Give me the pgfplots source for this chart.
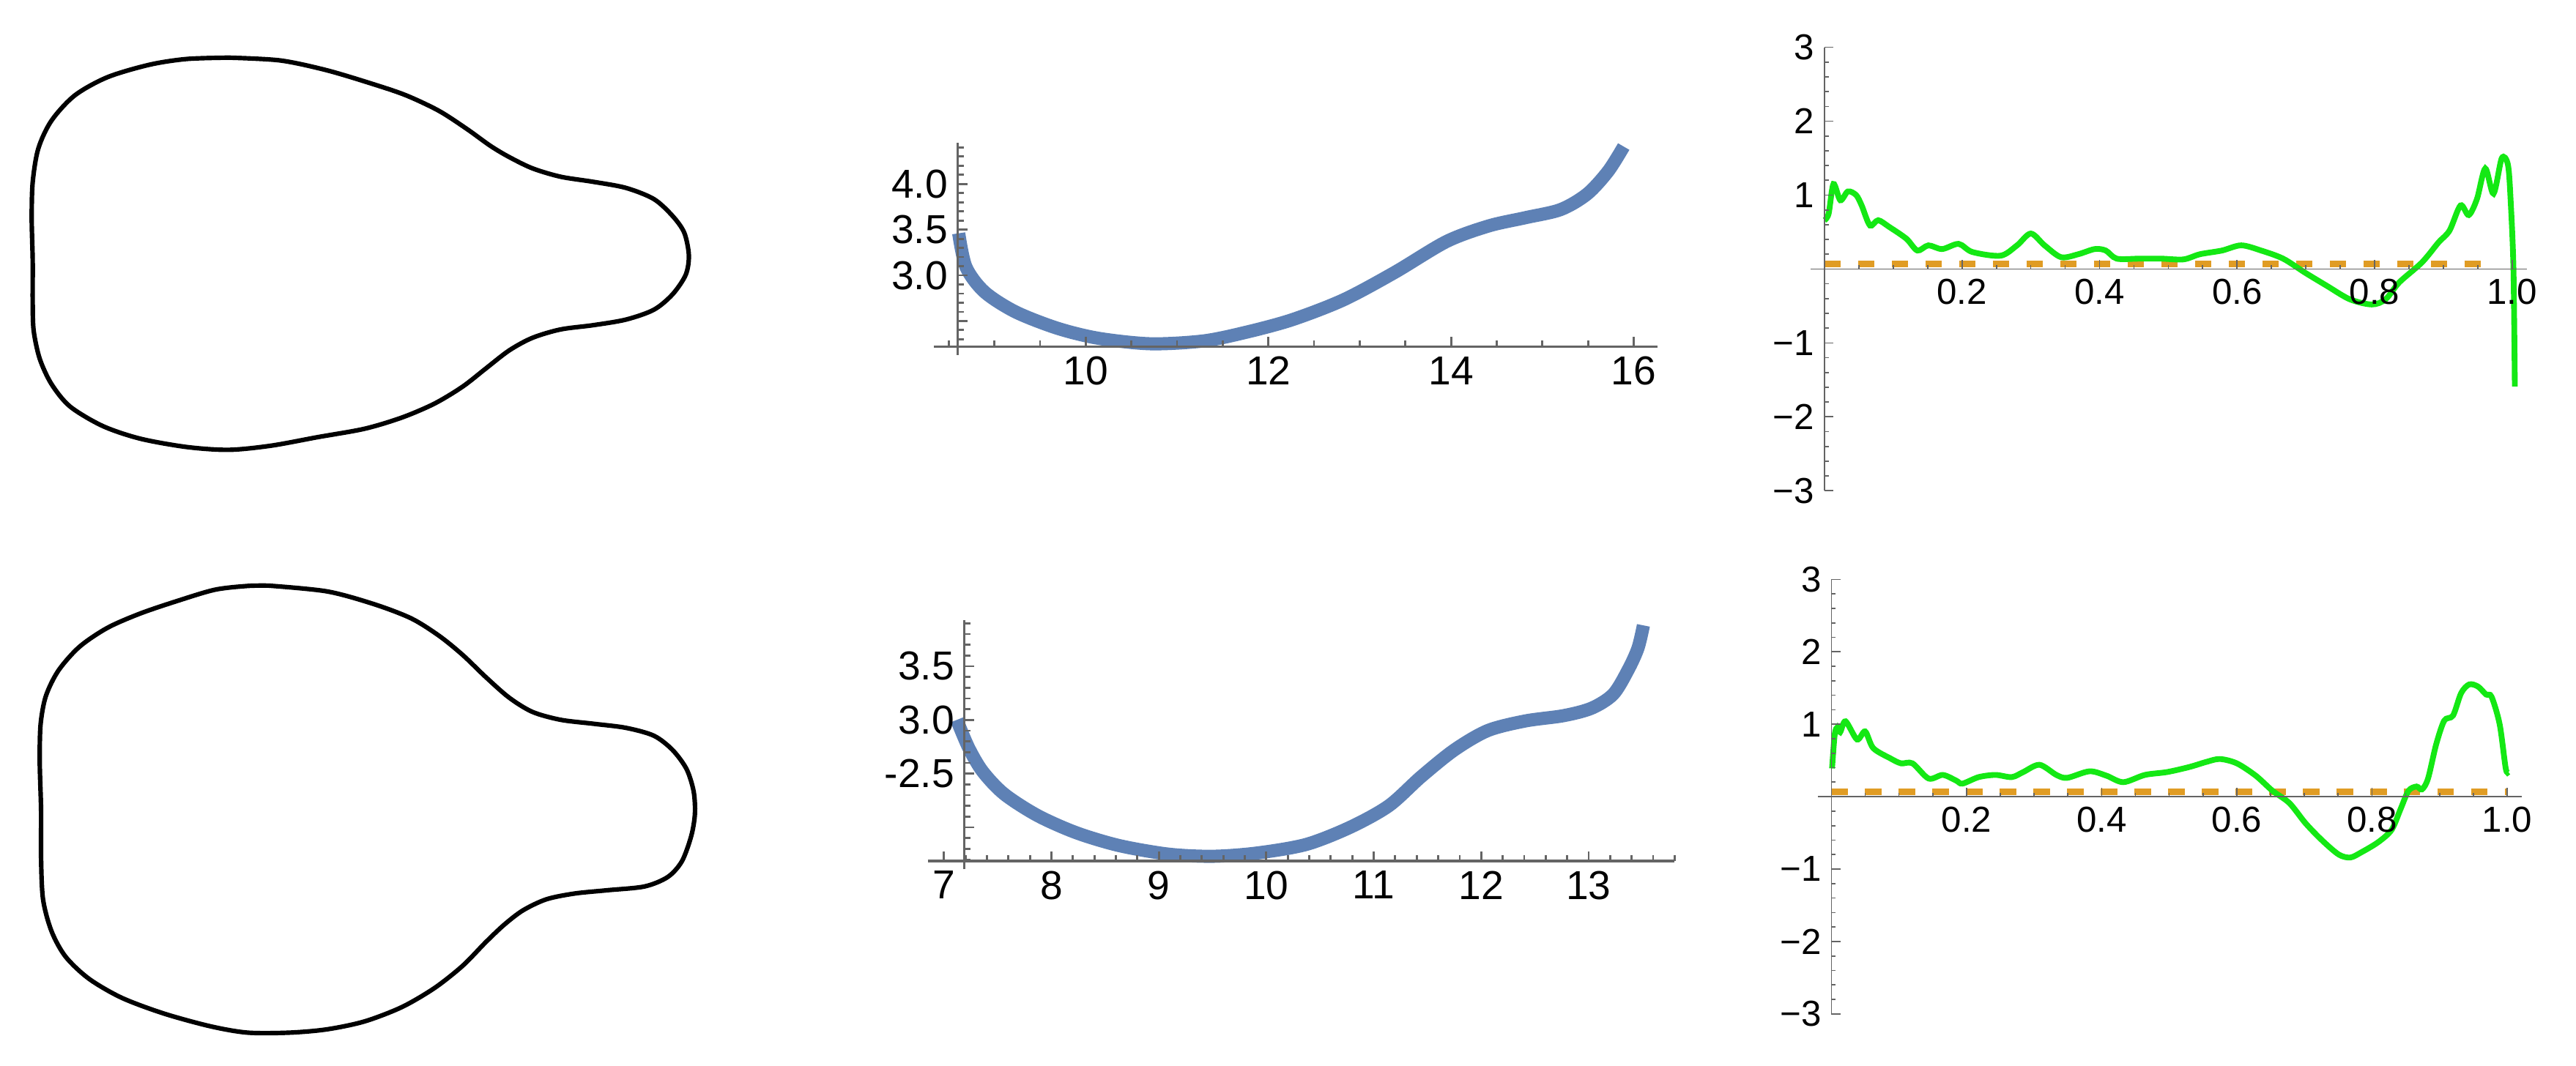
\documentclass[border=0pt]{standalone}
\usepackage{pgfplots}
\pgfplotsset{compat=1.18}
\usepackage{fontspec}
\setmainfont{Liberation Sans}

\definecolor{mblue}{RGB}{94,129,181}
\definecolor{morange}{RGB}{224,156,36}
\definecolor{mgreen}{RGB}{20,232,20}
\definecolor{axgray}{RGB}{100,100,100}

\pgfplotsset{
  midpanel/.style={
    axis x line=bottom, axis y line=left,
    axis line style={-, axgray, line width=0.3mm},
    tick align=inside,
    tick style={axgray, line width=0.25mm},
    major tick length=1.2mm, minor tick length=0.7mm,
    ticklabel style={font=\fontsize{14}{14}\selectfont},
    clip=false, axis on top,
  },
  rightpanel/.style={
    axis lines=middle,
    axis line style={-, axgray, line width=0.15mm},
    tick align=inside,
    tick style={axgray, line width=0.15mm},
    major tick length=1.1mm, minor tick length=0.5mm,
    ticklabel style={font=\fontsize{12.5}{12.5}\selectfont},
    xmin=-0.02, xmax=1.022, ymin=-3, ymax=3,
    xtick={0,0.2,0.4,0.6,0.8,1.0},
    xticklabels={,0.2,0.4,0.6,0.8,1.0},
    ytick={-3,-2,-1,0,1,2,3},
    yticklabels={−3,−2,−1,,1,2,3},
    minor xtick={0.05,0.1,...,1.0},
    minor ytick={-2.8,-2.6,...,2.8},
    clip=false, axis on top,
  },
}

\begin{document}
\begin{tikzpicture}
\useasboundingbox (0,0) rectangle (313.6mm,-129.8mm);

% outlines on the left
\begin{axis}[hide axis, at={(0,0)}, anchor=north west,
  x=0.2mm, y=0.2mm, y dir=reverse,
  xmin=0, xmax=1568, ymin=0, ymax=649, clip=false]
\addplot[black, line width=0.55mm, smooth] coordinates {
(139.3,35.1) (170.6,36.8) (199.0,42.8) (227.4,51.3) (247.3,58.1) (267.2,67.5)
(284.3,78.6) (298.5,88.8) (309.9,95.6) (324.1,102.5) (341.2,107.6) (361.1,110.7)
(381.0,114.4) (398.0,121.2) (409.4,131.5) (416.5,141.7) (419.3,155.4) (417.4,167.3)
(409.4,179.2) (398.0,188.6) (381.0,194.6) (361.1,198.0) (341.2,200.6) (324.1,205.7)
(309.9,213.4) (295.7,224.4) (281.5,235.5) (264.4,245.8) (244.5,254.3) (221.8,261.1)
(193.3,266.2) (164.9,271.4) (139.3,273.9) (113.7,272.2) (85.3,267.1) (62.5,259.4)
(42.6,247.5) (31.3,233.8) (24.2,218.5) (20.5,201.4) (19.9,184.4) (19.9,158.8)
(19.3,133.2) (19.9,111.0) (23.3,90.5) (31.3,73.5) (45.5,58.1) (65.4,47.0)
(91.0,39.4) (113.7,35.9) (139.3,35.1)
};
\addplot[black, line width=0.55mm, smooth] coordinates {
(163.5,356.6) (199.0,360.1) (227.4,367.8) (250.2,376.5) (267.2,387.1) (281.5,398.7)
(295.7,412.3) (309.9,424.8) (324.1,433.5) (341.2,438.3) (361.1,440.7) (381.0,443.2)
(398.0,448.0) (409.4,456.7) (417.9,468.3) (422.2,481.8) (423.0,495.4) (420.8,508.9)
(415.1,524.4) (406.5,534.0) (392.3,539.8) (369.6,542.1) (349.7,544.1) (332.6,547.6)
(318.4,554.3) (307.0,563.0) (295.7,573.7) (281.5,588.2) (264.4,601.7) (244.5,613.3)
(221.8,622.0) (199.0,626.8) (176.3,628.8) (150.7,628.8) (127.9,624.9) (99.5,617.1)
(73.9,607.5) (54.0,595.9) (39.8,582.4) (31.3,566.9) (26.2,547.6) (25.0,522.4)
(25.0,493.4) (24.2,464.4) (24.7,441.2) (27.9,423.9) (35.5,408.4) (48.3,393.9)
(65.4,382.3) (85.3,373.6) (108.0,365.9) (130.8,359.1) (150.7,356.8) (163.5,356.6)
};
\end{axis}

% middle top
\begin{axis}[midpanel, at={(116.6mm,-42.2mm)}, anchor=south west,
  x=11.12mm, y=11.12mm,
  xmin=8.6, xmax=16.26, ymin=2.22, ymax=4.45,
  xtick={10,12,14,16}, xticklabels={10,12,14,16},
  minor xtick={9,9.5,10.5,11,11.5,12.5,13,13.5,14.5,15,15.5},
  ytick={2.5,3,3.5,4}, yticklabels={,3.0,3.5,4.0},
  minor ytick={2.3,2.4,...,4.41},
]
\addplot[mblue, line width=1.6mm, smooth] coordinates {
(8.61,3.46) (8.69,3.09) (8.89,2.82) (9.23,2.60) (9.69,2.42) (10.14,2.31)
(10.71,2.25) (11.28,2.28) (11.73,2.37) (12.25,2.51) (12.82,2.73) (13.38,3.03)
(13.95,3.37) (14.41,3.54) (14.81,3.63) (15.20,3.72) (15.49,3.89) (15.72,4.14)
(15.89,4.41)
};
\draw[axgray, line width=0.3mm] (axis cs:8.34,2.22) -- (axis cs:8.6,2.22);
\draw[axgray, line width=0.3mm] (axis cs:8.6,2.13) -- (axis cs:8.6,2.22);
\draw[axgray, line width=0.25mm] (axis cs:8.5,2.22) -- ++(0pt,0.7mm);
\end{axis}

% middle bottom
\begin{axis}[midpanel, at={(117.4mm,-104.86mm)}, anchor=south west,
  x=13.08mm, y=13.08mm,
  xmin=7.19, xmax=13.8, ymin=1.686, ymax=3.93,
  xtick={8,9,10,11,12,13}, xticklabels={8,9,10,11,12,13},
  minor xtick={7.2,7.4,...,13.81},
  ytick={2,2.5,3,3.5}, yticklabels={,-2.5,3.0,3.5},
  minor ytick={1.7,1.8,...,3.91},
]
\addplot[mblue, line width=1.6mm, smooth] coordinates {
(7.12,3.00) (7.23,2.74) (7.36,2.52) (7.56,2.31) (7.87,2.11) (8.23,1.95)
(8.63,1.83) (9.09,1.75) (9.50,1.73) (9.91,1.76) (10.37,1.84) (10.78,2.00)
(11.14,2.20) (11.44,2.47) (11.75,2.72) (12.06,2.90) (12.41,2.99) (12.77,3.04)
(13.03,3.11) (13.23,3.24) (13.37,3.47) (13.46,3.67) (13.51,3.88)
};
\draw[axgray, line width=0.3mm] (axis cs:6.85,1.686) -- (axis cs:7.19,1.686);
\draw[axgray, line width=0.3mm] (axis cs:7.19,1.61) -- (axis cs:7.19,1.686);
\draw[axgray, line width=0.25mm] (axis cs:7,1.686) -- ++(0pt,1.2mm);
\node[anchor=north, font=\fontsize{14}{14}\selectfont] at (axis cs:7,1.686) {7};
\end{axis}

% right top
\begin{axis}[rightpanel, at={(220.44mm,-59.76mm)}, anchor=south west,
  x=83.7mm, y=9.0mm]
\addplot[morange, line width=0.8mm, dash pattern=on 2mm off 2.1mm] coordinates {
(0,0.07) (0.975,0.07)
};
\addplot[mgreen, line width=0.7mm, smooth] coordinates {
(0.000,0.66) (0.006,0.75) (0.013,1.15) (0.023,0.93) (0.034,1.05) (0.046,1.00)
(0.054,0.86) (0.066,0.59) (0.078,0.66) (0.094,0.57) (0.119,0.41) (0.135,0.25)
(0.151,0.32) (0.171,0.27) (0.195,0.34) (0.215,0.23) (0.256,0.18) (0.280,0.32)
(0.300,0.48) (0.320,0.32) (0.344,0.16) (0.369,0.20) (0.393,0.27) (0.409,0.25)
(0.425,0.14) (0.457,0.14) (0.490,0.14) (0.522,0.13) (0.546,0.20) (0.578,0.25)
(0.606,0.32) (0.635,0.25) (0.667,0.14) (0.699,-0.05) (0.731,-0.23) (0.764,-0.41)
(0.796,-0.48) (0.816,-0.41) (0.836,-0.18) (0.869,0.09) (0.893,0.36) (0.909,0.52)
(0.925,0.86) (0.937,0.73) (0.949,0.95) (0.961,1.36) (0.973,1.02) (0.985,1.50)
(0.994,1.41) (0.998,0.91) (1.002,0.00) (1.004,-1.59)
};
\end{axis}

% right bottom
\begin{axis}[rightpanel, at={(221.3mm,-123.48mm)}, anchor=south west,
  x=82.26mm, y=8.82mm]
\addplot[morange, line width=0.8mm, dash pattern=on 2mm off 2.1mm] coordinates {
(0,0.07) (1.0,0.07)
};
\addplot[mgreen, line width=0.7mm, smooth] coordinates {
(0.001,0.39) (0.005,0.86) (0.009,0.96) (0.013,0.89) (0.021,1.04) (0.038,0.79)
(0.050,0.90) (0.062,0.67) (0.087,0.53) (0.103,0.46) (0.120,0.46) (0.144,0.25)
(0.165,0.30) (0.185,0.22) (0.194,0.18) (0.218,0.27) (0.243,0.30) (0.267,0.27)
(0.284,0.34) (0.308,0.44) (0.333,0.30) (0.349,0.26) (0.382,0.35) (0.407,0.29)
(0.432,0.20) (0.464,0.30) (0.497,0.34) (0.530,0.41) (0.555,0.48) (0.575,0.52)
(0.600,0.46) (0.628,0.29) (0.653,0.08) (0.678,-0.09) (0.702,-0.37) (0.727,-0.61)
(0.751,-0.80) (0.768,-0.84) (0.784,-0.77) (0.809,-0.63) (0.829,-0.46) (0.842,-0.18)
(0.854,0.08) (0.866,0.14) (0.874,0.10) (0.883,0.25) (0.895,0.72) (0.907,1.05)
(0.920,1.12) (0.932,1.43) (0.944,1.55) (0.957,1.52) (0.969,1.41) (0.977,1.38)
(0.989,1.00) (0.998,0.39) (1.002,0.34)
};
\end{axis}
\end{tikzpicture}
\end{document}
